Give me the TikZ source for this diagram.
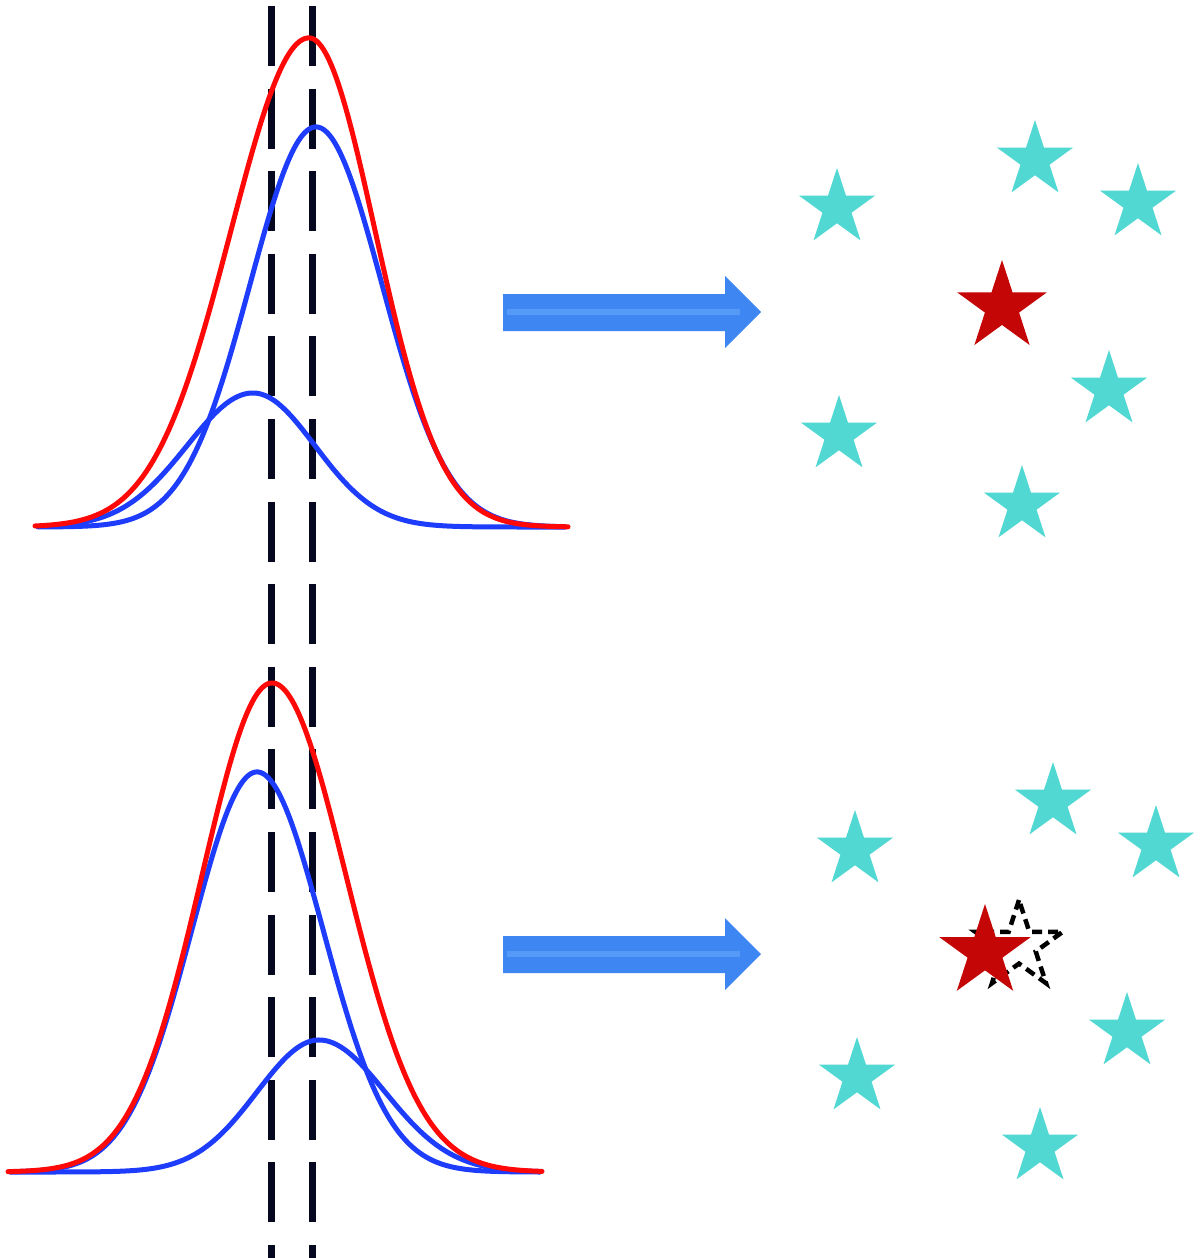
\documentclass[tikz,border=0pt]{standalone}
\usetikzlibrary{shapes.geometric}
\definecolor{cyanstar}{RGB}{82,216,210}
\definecolor{redstar}{RGB}{196,6,6}
\definecolor{arrowblue}{RGB}{62,134,242}
\definecolor{stripeblue}{RGB}{86,154,248}
\definecolor{curvered}{RGB}{255,8,8}
\definecolor{curveblue}{RGB}{30,60,252}
\definecolor{dashnavy}{RGB}{5,8,30}
\tikzset{
  cstar/.style={star, star points=5, star point ratio=2.618, fill=cyanstar, draw=none, minimum size=80pt, inner sep=0pt},
  rstar/.style={cstar, fill=redstar, minimum size=96pt},
  ghoststar/.style={star, star points=5, star point ratio=2.618, draw=black, fill=none, line width=4.5pt, dash pattern=on 10pt off 6pt, minimum size=92pt, inner sep=0pt},
  redcurve/.style={draw=curvered, line width=5pt, line cap=round},
  bluecurve/.style={draw=curveblue, line width=5pt, line cap=round},
  guide/.style={draw=dashnavy, line width=7pt, dash pattern=on 60pt off 22.6pt},
  bigarrow/.style={fill=arrowblue, draw=none},
  arrowstripe/.style={fill=stripeblue, draw=none},
}
\begin{document}
\begin{tikzpicture}[x=1pt,y=-1pt]
\useasboundingbox (0,0) rectangle (1200,1258);
\fill[white] (0,0) rectangle (1200,1258);

% guide lines
\coordinate (g1top) at (271,6);
\coordinate (g1bot) at (271,1262);
\coordinate (g2top) at (312,6);
\coordinate (g2bot) at (312,1262);
\draw[guide] (g1top) -- (g1bot);
\draw[guide] (g2top) -- (g2bot);

% top panel curves
\draw[bluecurve] plot[domain=38:565, samples=300, smooth] (\x, {527-400*exp(-0.5*((\x-316)/66)^2)});
\draw[bluecurve] plot[domain=38:565, samples=300, smooth] (\x, {527-134*exp(-0.5*((\x-253)/((\x<253)*66+(\x>=253)*62))^2)});
\draw[redcurve] plot[domain=35:568, samples=300, smooth] (\x, {527-489*exp(-0.5*((\x-309)/((\x<309)*78+(\x>=309)*66))^2)});

% bottom panel curves
\draw[bluecurve] plot[domain=10:540, samples=300, smooth] (\x, {1172-400*exp(-0.5*((\x-257)/((\x<257)*65+(\x>=257)*66))^2)});
\draw[bluecurve] plot[domain=10:540, samples=300, smooth] (\x, {1172-132*exp(-0.5*((\x-319)/((\x<319)*62+(\x>=319)*66))^2)});
\draw[redcurve] plot[domain=8:542, samples=300, smooth] (\x, {1172-489*exp(-0.5*((\x-272)/((\x<272)*70+(\x>=272)*74))^2)});

% arrows
\foreach \dy in {0,642}{
  \fill[bigarrow] (503,294+\dy) -- (725,294+\dy) -- (725,276+\dy) -- (761,312+\dy)
     -- (725,348+\dy) -- (725,331+\dy) -- (503,331+\dy) -- cycle;
  \fill[arrowstripe] (507,309+\dy) rectangle (740,315+\dy);
}

% top stars
\node[cstar] (s1) at (837,208) {};
\node[cstar] (s2) at (1035,160) {};
\node[cstar] (s3) at (1138,203) {};
\node[cstar] (s4) at (1109,390) {};
\node[cstar] (s5) at (839,435) {};
\node[cstar] (s6) at (1022,505) {};
\node[rstar, minimum size=94pt] (r1) at (1002,307) {};

% bottom stars
\node[cstar] (t1) at (855,850) {};
\node[cstar] (t2) at (1053,802) {};
\node[cstar] (t3) at (1156,845) {};
\node[cstar] (t4) at (1127,1032) {};
\node[cstar] (t5) at (857,1077) {};
\node[cstar] (t6) at (1040,1147) {};
\node[ghoststar] (g) at (1019,946) {};
\node[rstar] (r2) at (985,952) {};
\end{tikzpicture}
\end{document}
